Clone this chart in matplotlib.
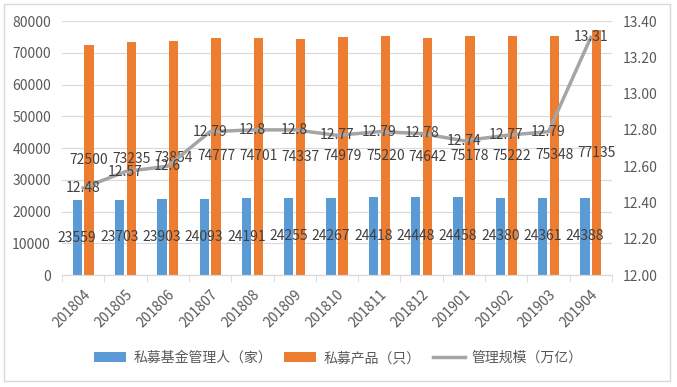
import numpy as np
import matplotlib.pyplot as plt
from matplotlib.patches import Rectangle

plt.rcParams['font.family'] = ['Noto Sans CJK SC', 'DejaVu Sans']

# data
months = ['201804', '201805', '201806', '201807', '201808', '201809', '201810',
          '201811', '201812', '201901', '201902', '201903', '201904']
managers = [23559, 23703, 23903, 24093, 24191, 24255, 24267,
            24418, 24448, 24458, 24380, 24361, 24388]
products = [72500, 73235, 73854, 74777, 74701, 74337, 74979,
            75220, 74642, 75178, 75222, 75348, 77135]
scale = [12.48, 12.57, 12.6, 12.79, 12.8, 12.8, 12.77,
         12.79, 12.78, 12.74, 12.77, 12.79, 13.31]
scale_txt = ['12.48', '12.57', '12.6', '12.79', '12.8', '12.8', '12.77',
             '12.79', '12.78', '12.74', '12.77', '12.79', '13.31']

c_blue = '#5B9BD5'
c_orange = '#ED7D31'
c_gray = '#A5A5A5'
tick_col = '#595959'
lab_col = '#404040'

fig = plt.figure(figsize=(6.77, 3.87), dpi=100)
fig.patches.append(Rectangle((0.006, 0.015), 0.984, 0.975, transform=fig.transFigure,
                             fill=False, edgecolor='#D9D9D9', linewidth=1))
ax = fig.add_axes([0.0916, 0.2894, 0.8124, 0.6563])
ax2 = ax.twinx()

x = np.arange(len(months))
w = 0.22
b1 = ax.bar(x - 0.14, managers, w, color=c_blue, label='私募基金管理人（家）', zorder=2)
b2 = ax.bar(x + 0.14, products, w, color=c_orange, label='私募产品（只）', zorder=2)
ln, = ax2.plot(x, scale, color=c_gray, linewidth=2.5, label='管理规模（万亿）', zorder=3)

for i in range(len(x)):
    ax.text(x[i] - 0.14, managers[i] / 2, str(managers[i]), ha='center', va='center',
            fontsize=10, color=lab_col, zorder=4)
    ax.text(x[i] + 0.14, products[i] / 2, str(products[i]), ha='center', va='center',
            fontsize=10, color=lab_col, zorder=4)
    ax2.text(x[i], scale[i], scale_txt[i], ha='center', va='center',
             fontsize=10, color=lab_col, zorder=5)

ax.set_xlim(-0.5, len(x) - 0.5)
ax.set_ylim(0, 80000)
ax.set_yticks(np.arange(0, 80001, 10000))
ax2.set_ylim(12.0, 13.4)
ax2.set_yticks(np.arange(12.0, 13.41, 0.2))
ax2.set_yticklabels(['%.2f' % v for v in np.arange(12.0, 13.41, 0.2)])

ax.grid(axis='y', color='#D9D9D9', linewidth=0.8, zorder=0)
ax.set_axisbelow(True)
for a in (ax, ax2):
    for s in ('top', 'left', 'right'):
        a.spines[s].set_visible(False)
    a.spines['bottom'].set_color('#D9D9D9')
    a.tick_params(axis='y', length=0, labelsize=10, labelcolor=tick_col, pad=8)

ax.set_xticks(x)
ax.set_xticklabels(months, rotation=45, ha='right', rotation_mode='anchor',
                   fontsize=10, color=tick_col)
ax.tick_params(axis='x', length=0, pad=9)
ax.set_xticks(np.arange(-0.5, len(x), 1), minor=True)
ax.tick_params(axis='x', which='minor', length=5, color='#D9D9D9')

fig.legend(handles=[b1, b2, ln], loc='center', bbox_to_anchor=(0.5, 0.075), ncol=3,
           frameon=False, fontsize=10, labelcolor=tick_col, handlelength=2.3,
           columnspacing=0.9, handletextpad=0.5)

plt.savefig('out.png', dpi=100)
